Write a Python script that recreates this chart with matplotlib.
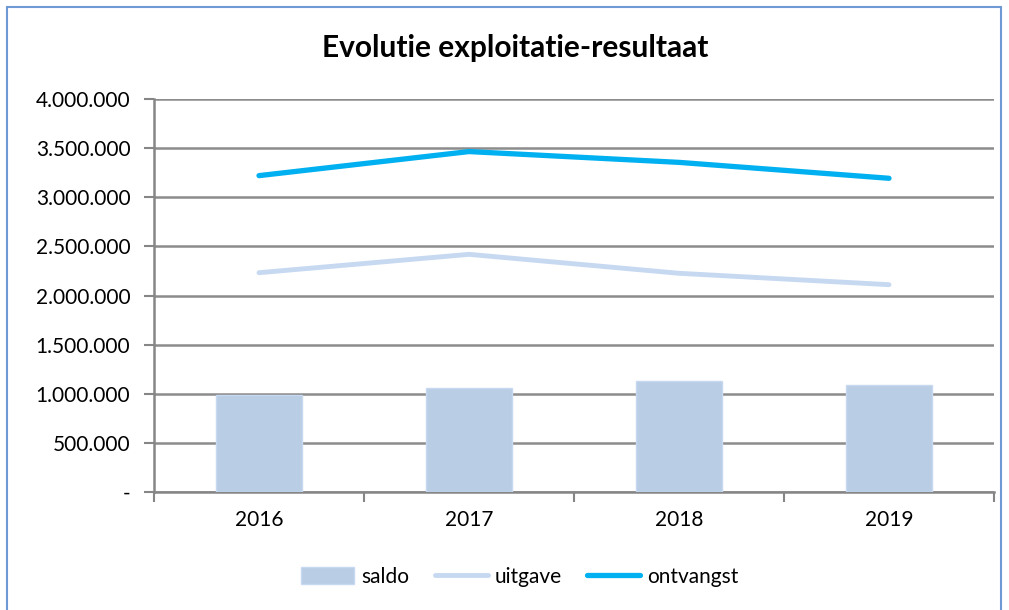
import matplotlib
matplotlib.use("Agg")
import matplotlib.pyplot as plt
from matplotlib.patches import Rectangle
from matplotlib.lines import Line2D
from matplotlib.ticker import FixedLocator, FuncFormatter

years = ["2016", "2017", "2018", "2019"]
saldo = [990000, 1060000, 1130000, 1090000]
uitgave = [2232000, 2419000, 2226000, 2110000]
ontvangst = [3220000, 3465000, 3355000, 3193000]
yticks = [0, 500000, 1000000, 1500000, 2000000, 2500000, 3000000, 3500000, 4000000]

plt.rcParams['font.family'] = ['Lato', 'DejaVu Sans']

fig = plt.figure(figsize=(10.09, 6.10), dpi=100)
fig.patch.set_facecolor('white')
fig.patches.append(Rectangle((7/1009, -0.02), (1001-7)/1009, 1 - 7/610 + 0.02,
                             transform=fig.transFigure, fill=False,
                             edgecolor='#6E9BD6', linewidth=1.5))

ax = fig.add_axes([154/1009, 1-492/610, (994-154)/1009, (492-99)/610])
x = list(range(len(years)))
ax.bar(x, saldo, width=0.405, color='#B9CDE5', edgecolor='#C6D9F1', linewidth=1, zorder=3, label='saldo')
ax.plot(x, uitgave, color='#C6D9F1', linewidth=3.5, solid_capstyle='round', zorder=4, label='uitgave')
ax.plot(x, ontvangst, color='#00B0F0', linewidth=3.8, solid_capstyle='round', zorder=5, label='ontvangst')

ax.set_xlim(-0.5, len(years) - 0.5)
ax.set_ylim(0, 4000000)
ax.set_yticks(yticks)
ax.yaxis.set_major_formatter(FuncFormatter(
    lambda v, p: '-' if v == 0 else f"{int(v):,}".replace(',', '.')))
ax.set_xticks(x)
ax.set_xticklabels(years)
ax.xaxis.set_minor_locator(FixedLocator([i - 0.5 for i in range(len(years) + 1)]))
ax.tick_params(axis='x', which='major', length=0, pad=13, labelsize=15)
ax.tick_params(axis='x', which='minor', length=7, width=1.5, color='#868686', direction='out')
ax.tick_params(axis='y', which='major', length=7, width=1.5, color='#868686', direction='out',
               pad=10, labelsize=15)
ax.grid(axis='y', color='#8C8C8C', linewidth=1.8, zorder=0)
ax.set_axisbelow(True)
for s in ['top', 'right']:
    ax.spines[s].set_visible(False)
for s in ['left', 'bottom']:
    ax.spines[s].set_color('#868686')
    ax.spines[s].set_linewidth(1.8)

fig.text(515/1009, 1-48/610, "Evolutie exploitatie-resultaat", ha='center', va='center',
         fontsize=21.5, fontweight='bold')

handles = [Rectangle((0, 0), 1, 1, facecolor='#B9CDE5', edgecolor='#C6D9F1'),
           Line2D([], [], color='#C6D9F1', linewidth=3.5, solid_capstyle='round'),
           Line2D([], [], color='#00B0F0', linewidth=3.8, solid_capstyle='round')]
fig.legend(handles, ['saldo', 'uitgave', 'ontvangst'], loc='center',
           bbox_to_anchor=(520/1009, 1-577/610), ncol=3, frameon=False, fontsize=15,
           handlelength=2.55, handleheight=0.85, handletextpad=0.35, columnspacing=1.2)

fig.savefig('out.png', dpi=100, facecolor='white')
